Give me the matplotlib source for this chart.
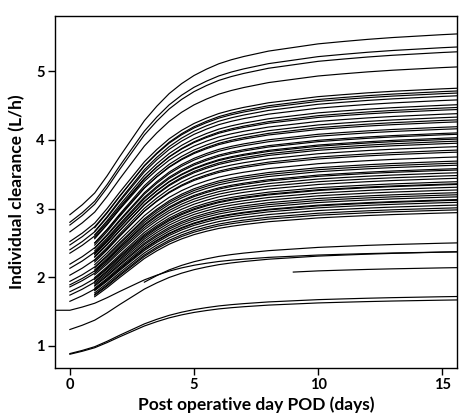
import matplotlib
matplotlib.use('Agg')
import matplotlib.pyplot as plt

# Shared time grid (POD, days) and the fraction of maturation
days = [-1, 0, 0.5, 1, 1.5, 2, 2.5, 3, 3.5, 4, 4.5, 5, 5.5, 6, 6.5, 7, 8, 9, 10,
        11, 12, 13, 14, 15, 15.6]
maturation = [0, 0, 0.055, 0.12, 0.215, 0.32, 0.42, 0.52, 0.60, 0.67, 0.725,
              0.77, 0.805, 0.835, 0.857, 0.875, 0.905, 0.925, 0.945, 0.958,
              0.97, 0.98, 0.988, 0.996, 1.0]

# Individual curves: clearance at POD 0 (L/h), clearance at POD 15.5 (L/h), first POD shown
cl_start = [2.91, 2.80, 2.76, 2.66, 2.52, 2.47, 2.40, 2.35, 2.19, 2.13, 2.03, 1.94,
            1.89, 1.86, 1.79, 1.74, 1.65, 1.24, 0.89, 0.88, 1.52, 1.31, 1.28,
            2.45, 2.40, 2.36, 2.30, 2.33, 2.25, 2.22, 2.26, 2.18, 2.15, 2.10, 2.12,
            2.06, 2.08, 2.00, 2.03, 1.97, 1.93, 1.90, 1.88, 1.84, 1.80, 1.78, 1.75,
            1.72, 1.70, 1.69, 1.66, 1.64, 1.63, 1.60, 1.58, 1.57, 1.55]
cl_end = [5.54, 5.35, 5.28, 5.06, 4.75, 4.68, 4.58, 4.44, 4.19, 4.08, 3.90, 3.69,
          3.58, 3.52, 3.39, 3.31, 3.13, 2.37, 1.72, 1.67, 2.37, 2.50, 2.14,
          4.71, 4.64, 4.51, 4.47, 4.38, 4.33, 4.29, 4.26, 4.16, 4.10, 4.03, 4.01,
          3.98, 3.95, 3.85, 3.82, 3.75, 3.66, 3.63, 3.56, 3.48, 3.44, 3.36, 3.35,
          3.27, 3.23, 3.20, 3.17, 3.12, 3.09, 3.05, 3.01, 2.98, 2.94]
first_day = [0] * 20 + [-1, 3, 9] + [1] * 34

x_ticks = [0, 5, 10, 15]
y_ticks = [1, 2, 3, 4, 5]
x_label = 'Post operative day POD (days)'
y_label = 'Individual clearance (L/h)'

plt.rcParams['font.family'] = ['Lato', 'DejaVu Sans']
fig = plt.figure(figsize=(4.66, 4.16), dpi=100)
ax = fig.add_axes([0.118, 0.1154, 0.863, 0.846])

for s, e, d0 in zip(cl_start, cl_end, first_day):
    xs = [d for d in days if d >= d0]
    fr = [m for d, m in zip(days, maturation) if d >= d0]
    ys = [s + (e - s) * f for f in fr]
    ax.plot(xs, ys, color='black', lw=0.85, solid_joinstyle='round')

ax.set_xlim(-0.6, 15.6)
ax.set_ylim(0.68, 5.8)
ax.set_xticks(x_ticks)
ax.set_yticks(y_ticks)
ax.tick_params(direction='out', length=5, width=1, labelsize=10.5, pad=2.5)
for lab in ax.get_xticklabels() + ax.get_yticklabels():
    lab.set_fontweight('bold')
for sp in ax.spines.values():
    sp.set_linewidth(1.0)
ax.set_xlabel(x_label, fontsize=12.5, fontweight='bold', labelpad=3)
ax.set_ylabel(y_label, fontsize=12.5, fontweight='bold', labelpad=8)

fig.savefig('out.png', dpi=100)
